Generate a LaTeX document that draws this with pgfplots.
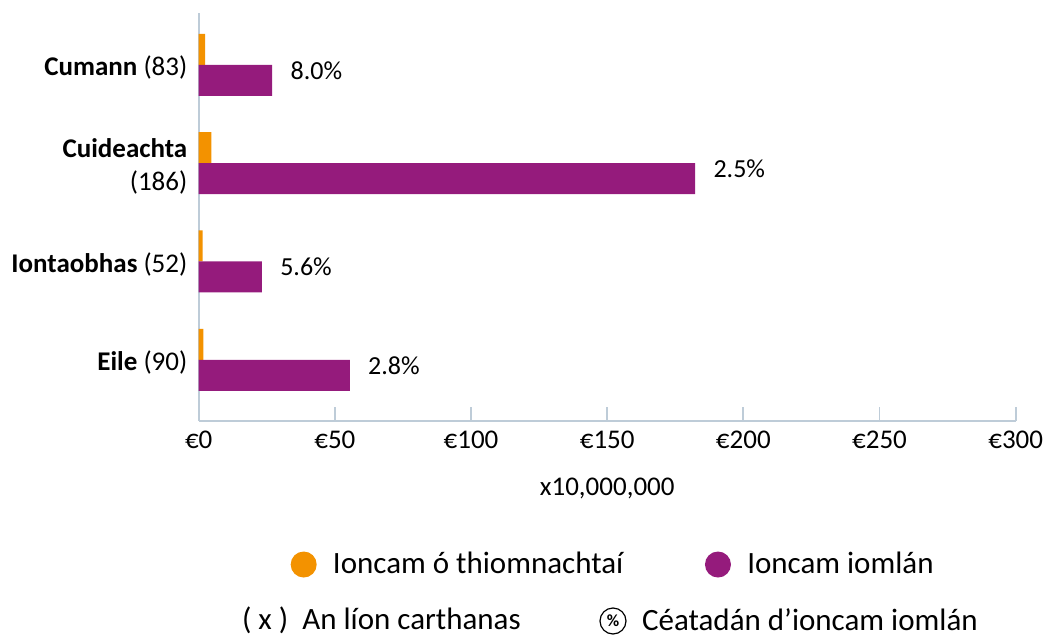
\documentclass[border=0pt]{standalone}
\usepackage{fontspec}
\setmainfont{Carlito}
\usepackage{pgfplots}
\pgfplotsset{compat=1.18}
\definecolor{cOrange}{RGB}{243,146,0}
\definecolor{cPurple}{RGB}{149,27,124}
\definecolor{cAxis}{RGB}{190,204,216}
\newcommand\cf{\fontsize{13.5}{16}\selectfont}
\newcommand\lf{\fontsize{15.5}{18}\selectfont}
\begin{document}
\begin{tikzpicture}[font=\cf]
\path[use as bounding box] (-99.35pt,-109.15pt) rectangle (423.65pt,210.35pt);
\begin{axis}[
  at={(0,0)}, anchor=south west,
  scale only axis, width=408.5pt, height=204pt,
  xmin=0, xmax=300, ymin=-0.62, ymax=3.53,
  axis x line*=bottom, axis y line*=left,
  axis line style={cAxis, line width=0.9pt},
  xtick={0,50,100,150,200,250,300},
  xticklabels={€0,€50,€100,€150,€200,€250,€300},
  tick align=inside, major tick length=7pt,
  x tick style={cAxis, line width=0.9pt},
  ytick={0,1,2,3},
  y tick style={draw=none},
  yticklabels={{\textbf{Eile} (90)},{\textbf{Iontaobhas} (52)},{\textbf{Cuideachta}\\(186)},{\textbf{Cumann} (83)}},
  yticklabel style={align=right, inner sep=0pt, xshift=1.5pt, yshift=-1.5pt, font=\fontsize{13.5}{16.5}\selectfont},
  xticklabel style={inner sep=0pt, yshift=-5pt, font=\cf},
  xlabel={x10,000,000},
  every axis x label/.style={at={(axis description cs:0.5,0)}, anchor=center, yshift=-34pt, font=\cf},
  xbar, bar width=15.5pt,
  legend columns=2,
  legend style={at={(axis description cs:0.1126,-0.3525)}, anchor=west, draw=none, fill=none, inner sep=0pt, outer sep=0pt, font=\lf,
    /tikz/every odd column/.append style={column sep=8.15pt},
    /tikz/every even column/.append style={column sep=40.8pt},
    nodes={inner sep=0pt}},
  legend image code/.code={\fill[#1] (6.5pt,0pt) circle (6.5pt);},
]
\addplot[xbar, bar shift=7.75pt, fill=cOrange, draw=none] coordinates {(1.7,0) (1.4,1) (4.7,2) (2.4,3)};
\addlegendentry{Ioncam ó thiomnachtaí}
\addplot[xbar, bar shift=-7.75pt, fill=cPurple, draw=none,
  point meta=explicit symbolic, nodes near coords,
  every node near coord/.append style={anchor=west, inner sep=0pt, xshift=9pt, yshift=5pt, font=\fontsize{13}{15}\selectfont, color=black}]
  coordinates {(55.5,0) [2.8\%] (23.2,1) [5.6\%] (182.3,2) [2.5\%] (27.0,3) [8.0\%]};
\addlegendentry{Ioncam iomlán}
\end{axis}
\node[anchor=west, inner sep=0pt, font=\lf] at (21.5pt,-99.65pt) {( x )\ \ An líon carthanas};
\node[draw, circle, minimum size=13pt, inner sep=0pt, line width=0.6pt, font=\fontsize{8.5}{8.5}\selectfont\bfseries] at (207.15pt,-100.15pt) {\%};
\node[anchor=west, inner sep=0pt, font=\lf] at (221.5pt,-99.65pt) {Céatadán d’ioncam iomlán};
\end{tikzpicture}
\end{document}
